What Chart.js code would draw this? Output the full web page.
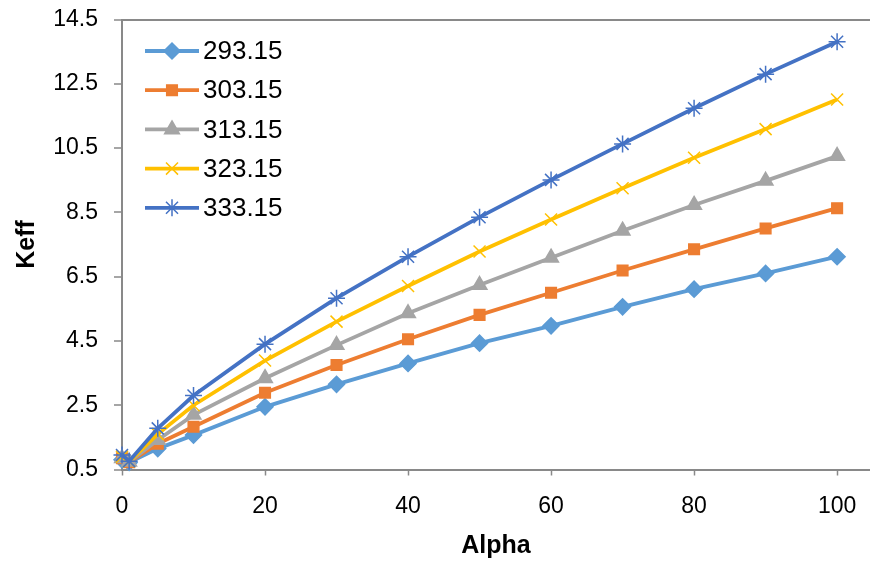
<!DOCTYPE html>
<html>
<head>
<meta charset="utf-8">
<script src="https://cdn.jsdelivr.net/npm/chart.js@4/dist/chart.umd.min.js"></script>
<style>
    html, body { margin: 0; padding: 0; background: #fff; }
    #wrap { width: 870px; height: 561px; }
</style>
</head>
<body>
<div id="wrap"><canvas id="chart" width="870" height="561"></canvas></div>
<script>
const alpha = [0, 1, 5, 10, 20, 30, 40, 50, 60, 70, 80, 90, 100];

const seriesNames = ["293.15", "303.15", "313.15", "323.15", "333.15"];

const keff293 = [0.80, 0.72, 1.15, 1.57, 2.45, 3.15, 3.80, 4.43, 4.97, 5.56, 6.11, 6.60, 7.12];
const keff303 = [0.85, 0.73, 1.30, 1.83, 2.89, 3.75, 4.55, 5.31, 6.00, 6.69, 7.35, 8.00, 8.63];
const keff313 = [0.85, 0.74, 1.42, 2.20, 3.34, 4.37, 5.36, 6.24, 7.09, 7.93, 8.73, 9.48, 10.25];
const keff323 = [0.90, 0.75, 1.60, 2.50, 3.89, 5.10, 6.21, 7.28, 8.28, 9.25, 10.20, 11.09, 12.01];
const keff333 = [0.95, 0.76, 1.78, 2.80, 4.40, 5.83, 7.12, 8.35, 9.51, 10.63, 11.74, 12.80, 13.81];

const yTicks = [0.5, 2.5, 4.5, 6.5, 8.5, 10.5, 12.5, 14.5];
const xTicks = [0, 20, 40, 60, 80, 100];

const FONT = "'Liberation Sans', sans-serif";
const AXIS_GRAY = "#898989";

const styles = [
    { color: "#5B9BD5", point: "rectRot",  radius: 8 },
    { color: "#ED7D31", point: "rect",     radius: 7.5 },
    { color: "#A5A5A5", point: "triangle", radius: 8.5 },
    { color: "#FFC000", point: "crossRot", radius: 8.5 },
    { color: "#4472C4", point: "star",     radius: 8.5 }
];

function toPoints(values) {
    return values.map((v, i) => ({ x: alpha[i], y: v }));
}

const allSeries = [keff293, keff303, keff313, keff323, keff333];

const datasets = allSeries.map((values, i) => ({
    label: seriesNames[i],
    data: toPoints(values),
    borderColor: styles[i].color,
    backgroundColor: styles[i].color,
    borderWidth: 3.8,
    pointStyle: styles[i].point,
    pointRadius: styles[i].radius,
    pointBorderWidth: 1.5,
    pointBorderColor: styles[i].color,
    pointBackgroundColor: styles[i].color,
    order: allSeries.length - i,   // later series on top
    clip: false,
    tension: 0
}));

// legend drawn inside the plot, top-left
const insideLegend = {
    id: "insideLegend",
    afterDatasetsDraw(chart) {
        const ctx = chart.ctx;
        const area = chart.chartArea;
        ctx.save();
        ctx.font = "26px " + FONT;
        ctx.textBaseline = "middle";
        ctx.textAlign = "left";
        chart.data.datasets.forEach((ds, i) => {
            const y = area.top + 31.5 + i * 39.2;
            const x0 = area.left + 23;
            const x1 = area.left + 77;
            ctx.strokeStyle = ds.borderColor;
            ctx.lineWidth = 3.8;
            ctx.beginPath();
            ctx.moveTo(x0, y);
            ctx.lineTo(x1, y);
            ctx.stroke();
            ctx.fillStyle = ds.backgroundColor;
            ctx.strokeStyle = ds.borderColor;
            ctx.lineWidth = 1.5;
            Chart.helpers.drawPoint(ctx, {
                pointStyle: ds.pointStyle,
                radius: ds.pointRadius,
                rotation: 0,
                borderWidth: 1.5
            }, (x0 + x1) / 2, y);
            ctx.fillStyle = "#000";
            ctx.fillText(ds.label, x1 + 4, y + 1);
        });
        ctx.restore();
    }
};

new Chart(document.getElementById("chart"), {
    type: "line",
    data: { datasets },
    plugins: [insideLegend],
    options: {
        responsive: false,
        animation: false,
        layout: {
            autoPadding: false,
            padding: { top: 19.5, right: 0, left: 0, bottom: 0 }
        },
        plugins: {
            legend: { display: false },
            tooltip: { enabled: false }
        },
        scales: {
            x: {
                type: "linear",
                min: 0,
                max: 104.6,
                afterBuildTicks(scale) {
                    scale.ticks = xTicks.map(v => ({ value: v }));
                },
                afterFit(scale) {
                    scale.height = 91.5;
                    scale.paddingLeft = 0;
                    scale.paddingRight = 0;
                },
                border: { display: true, color: AXIS_GRAY, width: 2 },
                grid: {
                    drawOnChartArea: false,
                    drawTicks: true,
                    tickLength: 6,
                    tickColor: AXIS_GRAY,
                    tickWidth: 1.5
                },
                ticks: {
                    color: "#000",
                    font: { family: FONT, size: 23 },
                    padding: 17,
                    maxRotation: 0
                },
                title: {
                    display: true,
                    text: "Alpha",
                    color: "#000",
                    font: { family: FONT, size: 25, weight: "bold" },
                    padding: { top: 4, bottom: 0 }
                }
            },
            y: {
                min: 0.5,
                max: 14.5,
                afterBuildTicks(scale) {
                    scale.ticks = yTicks.map(v => ({ value: v }));
                },
                afterFit(scale) {
                    scale.width = 122;
                    scale.paddingTop = 0;
                    scale.paddingBottom = 0;
                },
                border: { display: true, color: AXIS_GRAY, width: 2 },
                grid: {
                    drawTicks: true,
                    tickLength: 8,
                    tickColor: AXIS_GRAY,
                    tickWidth: 1.5,
                    lineWidth: 2,
                    color: c => (c.tick && c.tick.value === 14.5) ? AXIS_GRAY : "rgba(0,0,0,0)"
                },
                ticks: {
                    color: "#000",
                    font: { family: FONT, size: 23 },
                    padding: 16,
                    callback: v => v.toFixed(1)
                },
                title: {
                    display: true,
                    text: "Keff",
                    color: "#000",
                    font: { family: FONT, size: 25, weight: "bold" },
                    padding: { top: 12, bottom: 0 }
                }
            }
        }
    }
});
</script>
</body>
</html>
